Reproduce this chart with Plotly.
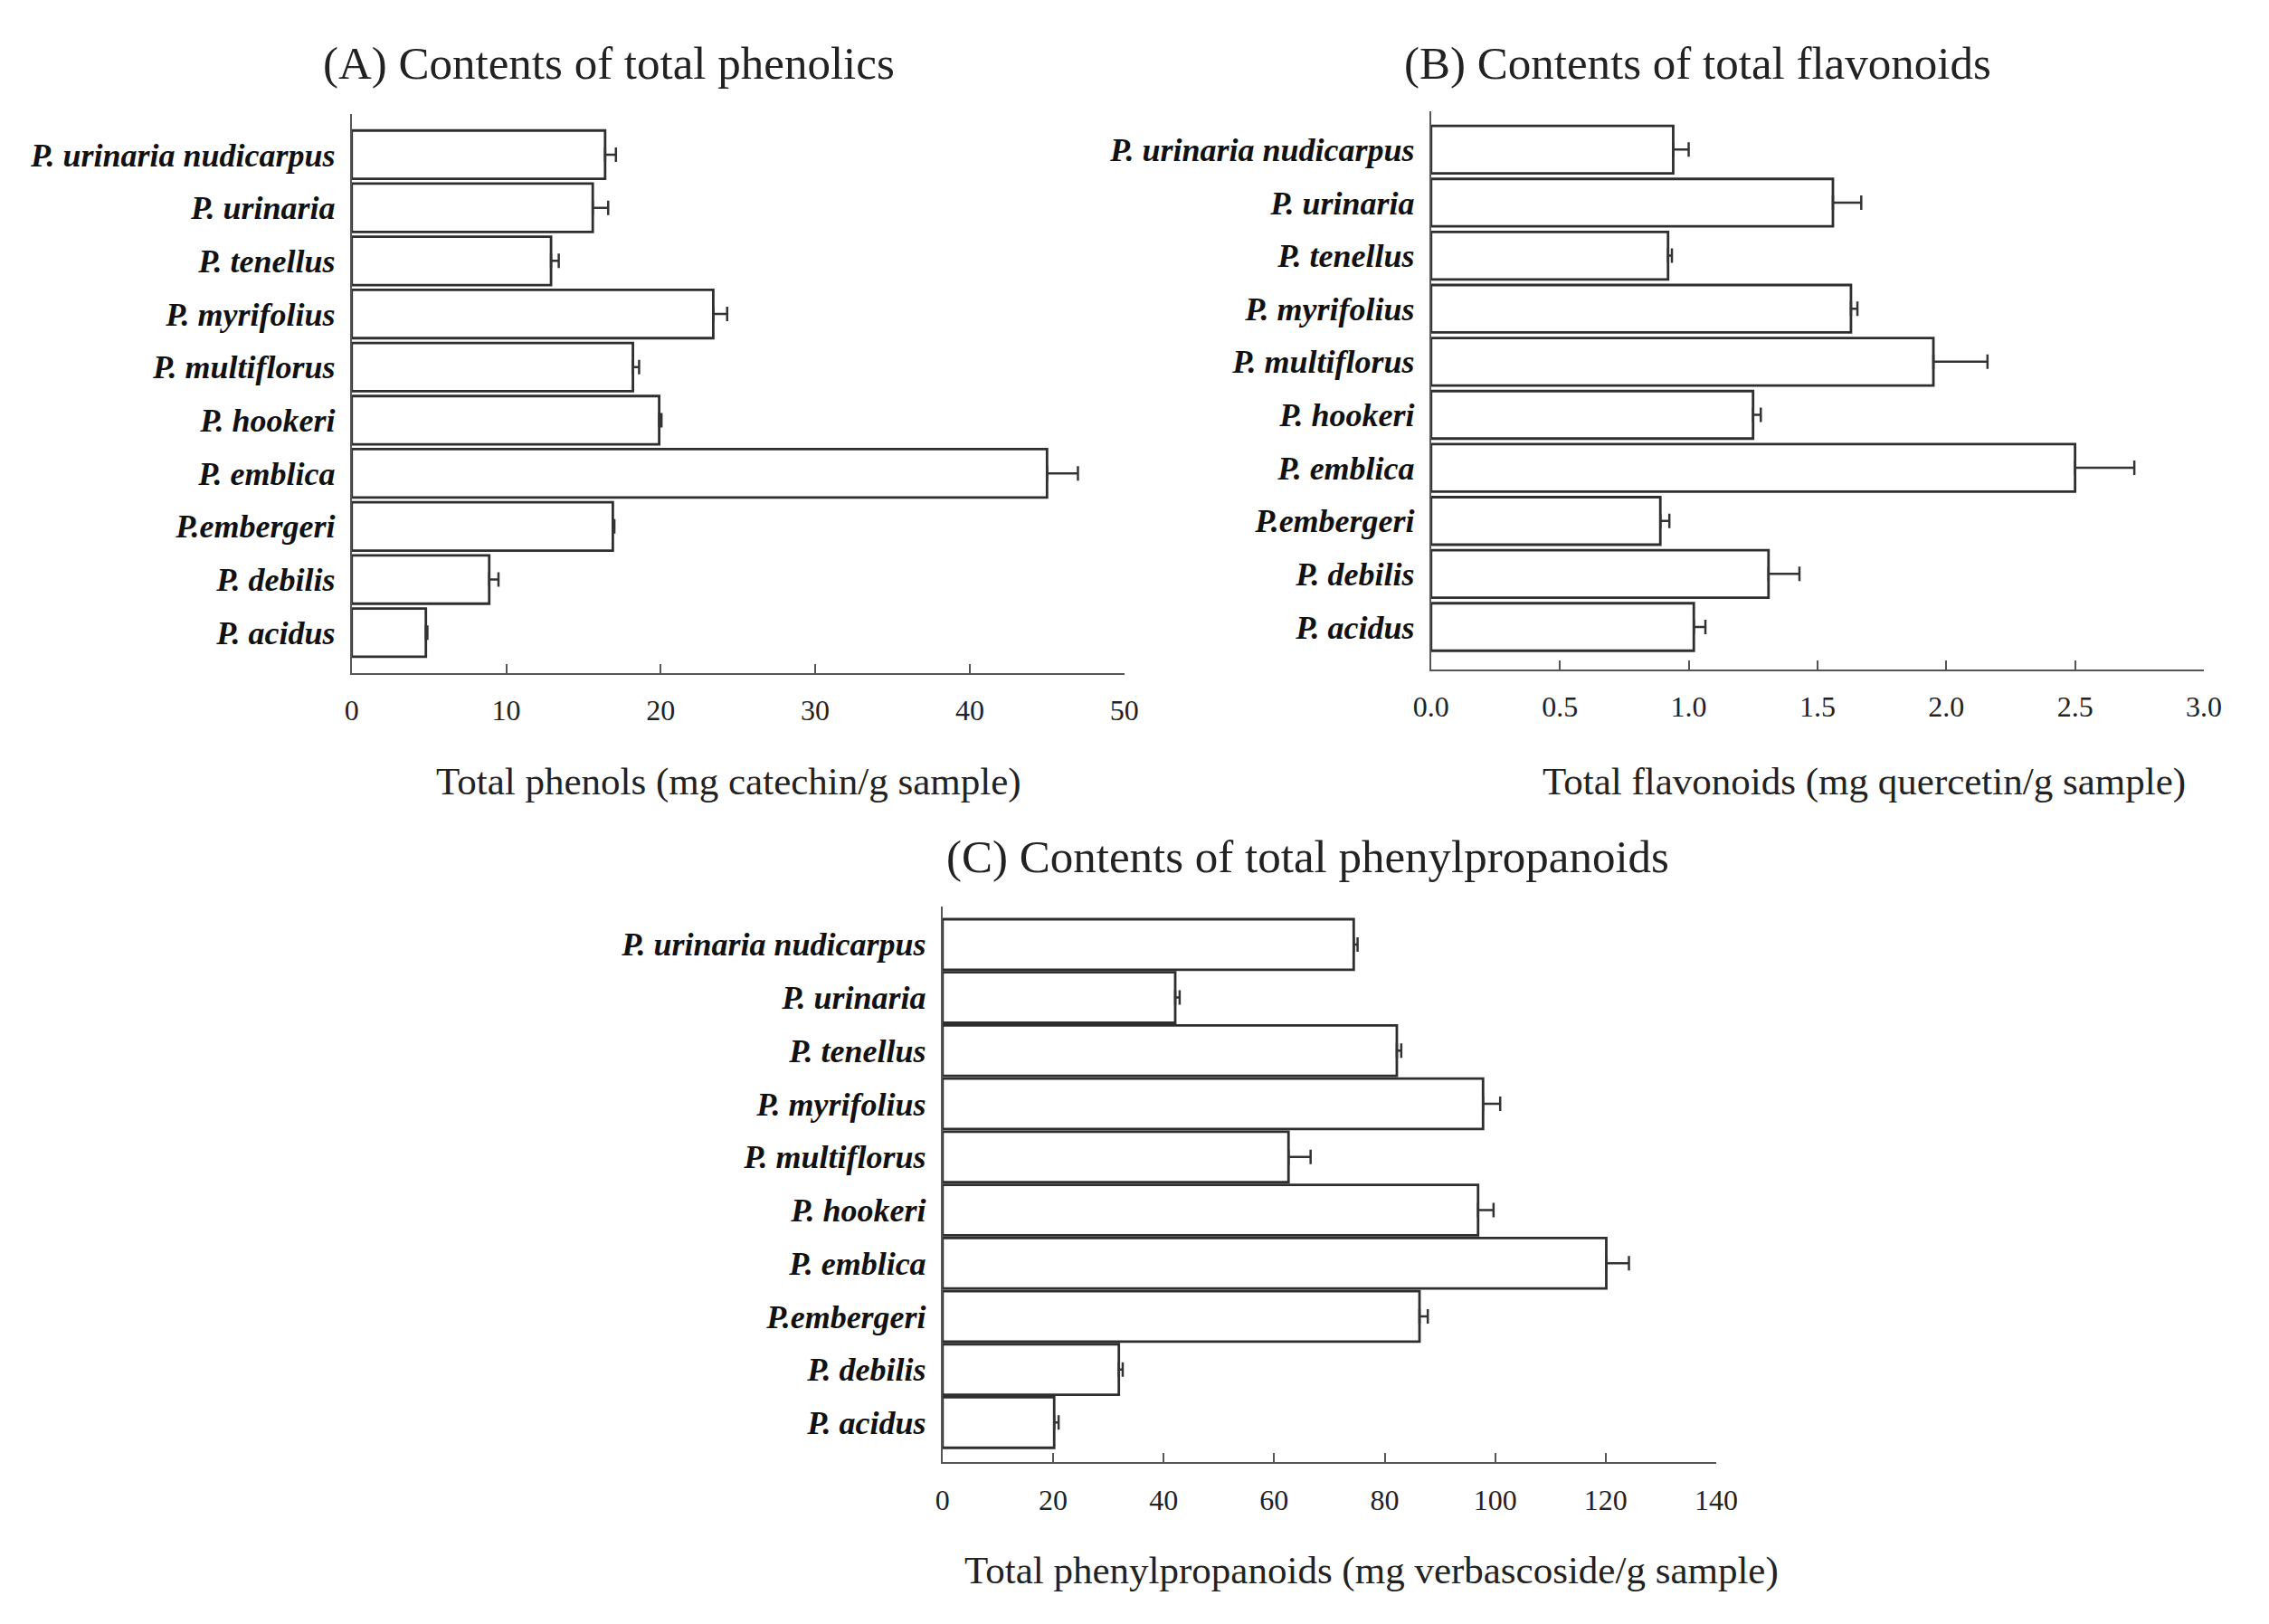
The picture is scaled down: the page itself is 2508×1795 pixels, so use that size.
import plotly.graph_objects as go

species = ["P. urinaria nudicarpus", "P. urinaria", "P. tenellus", "P. myrifolius",
           "P. multiflorus", "P. hookeri", "P. emblica", "P.embergeri", "P. debilis", "P. acidus"]

phenols = [16.4, 15.6, 12.9, 23.4, 18.2, 19.9, 45.0, 16.9, 8.9, 4.8]
phenols_err = [0.7, 1.0, 0.5, 0.9, 0.4, 0.15, 2.0, 0.1, 0.6, 0.1]

flavonoids = [0.94, 1.56, 0.92, 1.63, 1.95, 1.25, 2.50, 0.89, 1.31, 1.02]
flavonoids_err = [0.06, 0.11, 0.015, 0.025, 0.21, 0.03, 0.23, 0.035, 0.12, 0.045]

phenylprop = [74.4, 42.1, 82.2, 97.8, 62.6, 96.9, 120.1, 86.3, 31.9, 20.2]
phenylprop_err = [0.7, 0.8, 0.8, 3.1, 4.0, 2.8, 4.1, 1.5, 0.7, 0.8]

titles = ["(A) Contents of total phenolics", "(B) Contents of total flavonoids",
          "(C) Contents of total phenylpropanoids"]
xlabels = ["Total phenols (mg catechin/g sample)",
           "Total flavonoids (mg quercetin/g sample)",
           "Total phenylpropanoids (mg verbascoside/g sample)"]

SERIF = "Liberation Serif"
W, H = 2508, 1795

fig = go.Figure()

panels = [
    dict(vals=phenols, err=phenols_err, ax="", xdom=[0.155, 0.4955], ydom=[0.5856, 0.9296],
         xrange=[0, 50], dtick=10, fmt="d", yrange=[9.76, -0.76], width=0.91),
    dict(vals=flavonoids, err=flavonoids_err, ax="2", xdom=[0.6307, 0.9713], ydom=[0.5878, 0.9314],
         xrange=[0, 3.0], dtick=0.5, fmt=".1f", yrange=[9.8, -0.72], width=0.895),
    dict(vals=phenylprop, err=phenylprop_err, ax="3", xdom=[0.4154, 0.7564], ydom=[0.0995, 0.442],
         xrange=[0, 140], dtick=20, fmt="d", yrange=[9.75, -0.72], width=0.95),
]

for p in panels:
    fig.add_trace(go.Bar(
        y=species, x=p["vals"], orientation="h", width=p["width"],
        xaxis="x" + p["ax"], yaxis="y" + p["ax"],
        marker=dict(color="white", line=dict(color="#2e2e2e", width=2.8)),
        error_x=dict(type="data", array=p["err"], arrayminus=[0] * len(p["err"]),
                     symmetric=False, color="#333333", thickness=2.5, width=8),
        showlegend=False,
    ))

layout = dict(
    width=W, height=H, margin=dict(l=0, r=0, t=0, b=0, autoexpand=False),
    paper_bgcolor="white", plot_bgcolor="white",
    font=dict(family=SERIF, color="#222222"),
)

for i, p in enumerate(panels):
    xa = "xaxis" + p["ax"]
    ya = "yaxis" + p["ax"]
    layout[xa] = dict(
        domain=p["xdom"], anchor="y" + p["ax"], range=p["xrange"], dtick=p["dtick"],
        tick0=0, tickformat=p["fmt"], ticks="inside", ticklen=10, tickwidth=2,
        tickcolor="#555555", showline=True, linecolor="#555555", linewidth=2,
        showgrid=False, zeroline=False, tickfont=dict(family=SERIF, size=32, color="#222222"),
        ticklabelstandoff=12, fixedrange=True, automargin=False,
    )
    layout[ya] = dict(
        domain=p["ydom"], anchor="x" + p["ax"], type="category",
        categoryorder="array", categoryarray=species, range=p["yrange"],
        showline=True, linecolor="#555555", linewidth=2, ticks="", showgrid=False,
        tickfont=dict(family=SERIF, size=36, color="#111111", weight="bold", style="italic"),
        ticklabelstandoff=9, fixedrange=True, automargin=False,
    )

fig.update_layout(**layout)

# titles (display coords of 1568x1122 converted to paper fractions)
title_pos = [(421 / 1568, 1 - 44 / 1122), (1173 / 1568, 1 - 44 / 1122), (904 / 1568, 1 - 592 / 1122)]
xlabel_pos = [(503.5 / 1568, 1 - 540 / 1122), (1288 / 1568, 1 - 540 / 1122), (948 / 1568, 1 - 1085 / 1122)]

for t, (x, y) in zip(titles, title_pos):
    fig.add_annotation(text=t, x=x, y=y, xref="paper", yref="paper", showarrow=False,
                       xanchor="center", yanchor="middle",
                       font=dict(family=SERIF, size=51, color="#222222"))
for t, (x, y) in zip(xlabels, xlabel_pos):
    fig.add_annotation(text=t, x=x, y=y, xref="paper", yref="paper", showarrow=False,
                       xanchor="center", yanchor="middle",
                       font=dict(family=SERIF, size=43, color="#222222"))

fig.write_html("out.html")
